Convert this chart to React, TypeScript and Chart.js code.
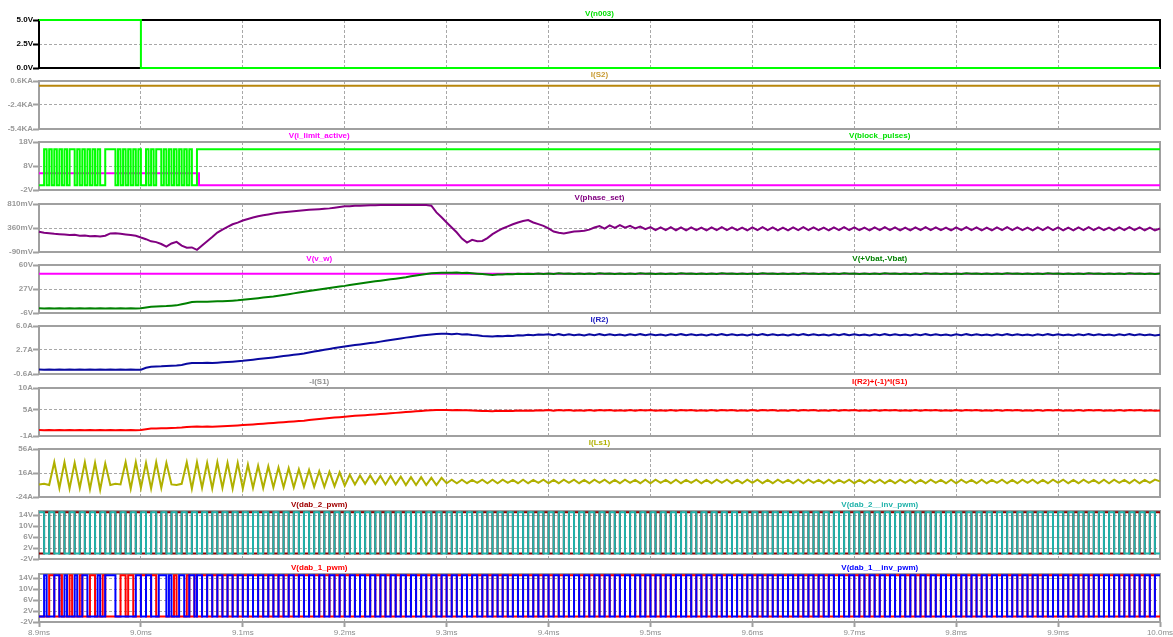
import React, { useEffect, useRef } from "react";
import { Chart, registerables } from "chart.js";

Chart.register(...registerables);

// ---------------- time axis ----------------
const T_START = 8.9;
const T_END = 10.0;
const SAMPLE_STEP = 0.005; // ms between analog samples
const timeTicks = [8.9, 9.0, 9.1, 9.2, 9.3, 9.4, 9.5, 9.6, 9.7, 9.8, 9.9, 10.0];
const timeTickLabels = ["8.9ms", "9.0ms", "9.1ms", "9.2ms", "9.3ms", "9.4ms", "9.5ms", "9.6ms", "9.7ms", "9.8ms", "9.9ms", "10.0ms"];

// ---------------- y tick values / labels ----------------
const n003Ticks = [5, 2.5, 0];
const n003TickLabels = ["5.0V", "2.5V", "0.0V"];
const s2Ticks = [0.6, -2.4, -5.4];
const s2TickLabels = ["0.6KA", "-2.4KA", "-5.4KA"];
const limitTicks = [18, 8, -2];
const limitTickLabels = ["18V", "8V", "-2V"];
const phaseTicks = [810, 360, -90];
const phaseTickLabels = ["810mV", "360mV", "-90mV"];
const vbatTicks = [60, 27, -6];
const vbatTickLabels = ["60V", "27V", "-6V"];
const r2Ticks = [6, 2.7, -0.6];
const r2TickLabels = ["6.0A", "2.7A", "-0.6A"];
const s1Ticks = [10, 5, -1];
const s1TickLabels = ["10A", "5A", "-1A"];
const ls1Ticks = [56, 16, -24];
const ls1TickLabels = ["56A", "16A", "-24A"];
const pwmTicks = [14, 10, 6, 2, -2];
const pwmTickLabels = ["14V", "10V", "6V", "2V", "-2V"];

// ---------------- level (step) signals: change times (ms) and values ----------------
const n003Times = [8.9, 9.0];
const n003Values = [5, 0];
const s2Times = [8.9];
const s2Values = [0]; // KA
const limitTimes = [8.9, 9.057];
const limitValues = [5, 0];
const vwTimes = [8.9];
const vwValues = [47.8];

// ---------------- pulse patterns (H = high, L = low) ----------------
const PULSE_HIGH = 15;
const PULSE_LOW = 0;
const BLOCK_SLOT = 0.0025; // ms
const blockPattern =
  "LLHLHLHLHL" + "HLHHLHLHLH" + "LHLHLLHHHH" + "LHLHLHLHLH" +
  "LLHLHLHHLH" + "LHLHLHLHLH" + "LLH";

const DAB2_SLOT = 0.005; // ms
const dab2InvPattern =
  "HLHLHLHLHLHLHLHLHLHL" + "HLHLHLHLHLHLHLHLHLHL" + "HLHLHLHLHLHLHLHLHLHL" +
  "HLHLHLHLHLHLHLHLHLHL" + "HLHLHLHLHLHLHLHLHLHL" + "HLHLHLHLHLHLHLHLHLHL" +
  "HLHLHLHLHLHLHLHLHLHL" + "HLHLHLHLHLHLHLHLHLHL" + "HLHLHLHLHLHLHLHLHLHL" +
  "HLHLHLHLHLHLHLHLHLHL" + "HLHLHLHLHLHLHLHLHLHL";
const dab2Pattern =
  "LHLHLHLHLHLHLHLHLHLH" + "LHLHLHLHLHLHLHLHLHLH" + "LHLHLHLHLHLHLHLHLHLH" +
  "LHLHLHLHLHLHLHLHLHLH" + "LHLHLHLHLHLHLHLHLHLH" + "LHLHLHLHLHLHLHLHLHLH" +
  "LHLHLHLHLHLHLHLHLHLH" + "LHLHLHLHLHLHLHLHLHLH" + "LHLHLHLHLHLHLHLHLHLH" +
  "LHLHLHLHLHLHLHLHLHLH" + "LHLHLHLHLHLHLHLHLHLH";

const DAB1_SLOT = 0.0025; // ms
const dab1InvPattern =
  "LLHLLLHHLLHLLLHLLHHLLLLHLLHHHHLLLLLLLLHH" +
  "LLHHLLLHHHLHLLLHHLLHHLHHLLHHLLHHLLHHLLHH" +
  "LLHHLLHHLLHHLLHHLLHHLLHHLLHHLLHHLLHHLLHH" +
  "LLHHLLHHLLHHLLHHLLHHLLHHLLHHLLHHLLHHLLHH" +
  "LLHHLLHHLLHHLLHHLLHHLLHHLLHHLLHHLLHHLLHH" +
  "LLHHLLHHLLHHLLHHLLHHLLHHLLHHLLHHLLHHLLHH" +
  "LLHHLLHHLLHHLLHHLLHHLLHHLLHHLLHHLLHHLLHH" +
  "LLHHLLHHLLHHLLHHLLHHLLHHLLHHLLHHLLHHLLHH" +
  "LLHHLLHHLLHHLLHHLLHHLLHHLLHHLLHHLLHHLLHH" +
  "LLHHLLHHLLHHLLHHLLHHLLHHLLHHLLHHLLHHLLHH" +
  "LLHHLLHHLLHHLLHHLLHHLLHHLLHHLLHHLLHHLLHH";
const dab1Pattern =
  "LLLLHHLLHLLLHLLLHLLLHHLLLHLLLLLLHHLHHLLL" +
  "HHLLHHLLLLLLLHLLLLHLLHLLHHLLHHLLHHLLHHLL" +
  "HHLLHHLLHHLLHHLLHHLLHHLLHHLLHHLLHHLLHHLL" +
  "HHLLHHLLHHLLHHLLHHLLHHLLHHLLHHLLHHLLHHLL" +
  "HHLLHHLLHHLLHHLLHHLLHHLLHHLLHHLLHHLLHHLL" +
  "HHLLHHLLHHLLHHLLHHLLHHLLHHLLHHLLHHLLHHLL" +
  "HHLLHHLLHHLLHHLLHHLLHHLLHHLLHHLLHHLLHHLL" +
  "HHLLHHLLHHLLHHLLHHLLHHLLHHLLHHLLHHLLHHLL" +
  "HHLLHHLLHHLLHHLLHHLLHHLLHHLLHHLLHHLLHHLL" +
  "HHLLHHLLHHLLHHLLHHLLHHLLHHLLHHLLHHLLHHLL" +
  "HHLLHHLLHHLLHHLLHHLLHHLLHHLLHHLLHHLLHHLL";

// ---------------- analog signals, one sample every 5 µs from 8.9 ms ----------------
const phaseSet = [ // mV
  290, 270, 262, 250, 245, 240, 228, 235, 215, 220,
  205, 212, 200, 215, 258, 262, 250, 240, 228, 215,
  181, 150, 110, 95, 60, 10, 70, 100, 30, -10,
  -5, -50, 30, 110, 190, 275, 330, 380, 430, 460,
  500, 530, 558, 580, 600, 615, 630, 645, 655, 665,
  675, 685, 692, 700, 707, 713, 720, 728, 740, 752,
  766, 770, 775, 779, 782, 785, 787, 789, 790, 791,
  791, 792, 792, 792, 791, 791, 791, 779, 653, 560,
  464, 370, 275, 162, 87, 137, 110, 118, 170, 244,
  300, 351, 390, 430, 464, 490, 508, 464, 433, 400,
  351, 294, 270, 256, 275, 294, 300, 307, 330, 370,
  395, 350, 410, 362, 412, 365, 400, 352, 388, 340,
  378, 322, 372, 320, 375, 318, 372, 316, 372, 320,
  368, 316, 372, 320, 376, 322, 372, 320, 368, 316,
  372, 320, 376, 320, 372, 316, 368, 316, 372, 320,
  376, 322, 372, 320, 368, 316, 372, 320, 376, 322,
  372, 320, 368, 316, 372, 320, 376, 320, 372, 316,
  368, 316, 372, 320, 376, 322, 372, 320, 368, 316,
  372, 320, 376, 320, 372, 316, 368, 316, 372, 320,
  376, 322, 372, 320, 368, 316, 372, 320, 376, 320,
  372, 316, 368, 316, 372, 320, 376, 322, 372, 320,
  368, 316, 372, 320, 376, 320, 372, 316, 368, 316,
  350,
];

const vbat = [ // V
  0.4, 0.2, 0.5, 0.3, 0.4, 0.2, 0.5, 0.3, 0.4, 0.2,
  0.5, 0.3, 0.4, 0.2, 0.5, 0.3, 0.4, 0.3, 0.5, 0.3,
  0.4, 1.5, 2.5, 3.0, 3.2, 3.5, 4.0, 4.5, 6.0, 7.5,
  9.0, 9.3, 9.5, 9.6, 9.8, 10.0, 10.3, 10.6, 11.0, 11.5,
  12.2, 12.9, 13.6, 14.4, 15.2, 16.0, 16.8, 17.8, 18.8, 19.9,
  21.0, 22.1, 23.1, 24.2, 25.3, 26.4, 27.4, 28.4, 29.4, 30.4,
  31.3, 32.4, 33.5, 34.5, 35.5, 36.5, 37.5, 38.5, 39.4, 40.3,
  41.2, 42.2, 43.2, 44.4, 45.5, 46.6, 47.7, 48.5, 49.0, 49.3,
  49.5, 49.2, 49.6, 49.0, 49.3, 48.6, 48.0, 47.5, 46.9, 46.3,
  46.8, 47.0, 47.5, 47.2, 47.8, 47.5, 48.0, 47.7, 48.3, 47.8,
  48.4, 47.8, 48.5, 47.9, 48.4, 47.8, 48.3, 47.7, 48.4, 47.8,
  48.5, 47.9, 48.4, 47.8, 48.3, 47.7, 48.4, 47.8, 48.5, 47.9,
  48.4, 47.8, 48.3, 47.7, 48.4, 47.8, 48.5, 47.9, 48.4, 47.8,
  48.3, 47.7, 48.4, 47.8, 48.5, 47.9, 48.4, 47.8, 48.3, 47.7,
  48.4, 47.8, 48.5, 47.9, 48.4, 47.8, 48.3, 47.7, 48.4, 47.8,
  48.5, 47.9, 48.4, 47.8, 48.3, 47.7, 48.4, 47.8, 48.5, 47.9,
  48.4, 47.8, 48.3, 47.7, 48.4, 47.8, 48.5, 47.9, 48.4, 47.8,
  48.3, 47.7, 48.4, 47.8, 48.5, 47.9, 48.4, 47.8, 48.3, 47.7,
  48.4, 47.8, 48.5, 47.9, 48.4, 47.8, 48.3, 47.7, 48.4, 47.8,
  48.5, 47.9, 48.4, 47.8, 48.3, 47.7, 48.4, 47.8, 48.5, 47.9,
  48.4, 47.8, 48.3, 47.7, 48.4, 47.8, 48.5, 47.9, 48.4, 47.8,
  48.3, 47.7, 48.4, 47.8, 48.5, 47.9, 48.4, 47.8, 48.3, 47.7,
  48.2,
];

const iR2 = [ // A
  0.02, -0.03, 0.03, -0.02, 0.02, -0.03, 0.03, -0.02, 0.02, -0.03,
  0.03, -0.02, 0.02, -0.03, 0.03, -0.02, 0.02, -0.03, 0.03, -0.02,
  0.0, 0.25, 0.4, 0.42, 0.45, 0.5, 0.54, 0.58, 0.65, 0.8,
  0.9, 0.92, 0.9, 0.93, 0.9, 0.95, 1.0, 1.05, 1.1, 1.16,
  1.22, 1.3, 1.37, 1.45, 1.52, 1.6, 1.68, 1.77, 1.86, 1.95,
  2.04, 2.13, 2.22, 2.35, 2.48, 2.6, 2.72, 2.84, 2.96, 3.07,
  3.18, 3.28, 3.38, 3.47, 3.56, 3.65, 3.74, 3.85, 3.96, 4.07,
  4.18, 4.29, 4.4, 4.5, 4.6, 4.69, 4.77, 4.84, 4.9, 4.93,
  4.95, 4.88, 4.95, 4.82, 4.85, 4.77, 4.72, 4.62, 4.6, 4.54,
  4.62, 4.58, 4.66, 4.62, 4.72, 4.68, 4.78, 4.74, 4.84, 4.8,
  4.86, 4.72, 4.88, 4.74, 4.86, 4.72, 4.84, 4.7, 4.86, 4.72,
  4.88, 4.74, 4.86, 4.72, 4.84, 4.7, 4.86, 4.72, 4.88, 4.74,
  4.86, 4.72, 4.84, 4.7, 4.86, 4.72, 4.88, 4.74, 4.86, 4.72,
  4.84, 4.7, 4.86, 4.72, 4.88, 4.74, 4.86, 4.72, 4.84, 4.7,
  4.86, 4.72, 4.88, 4.74, 4.86, 4.72, 4.84, 4.7, 4.86, 4.72,
  4.88, 4.74, 4.86, 4.72, 4.84, 4.7, 4.86, 4.72, 4.88, 4.74,
  4.86, 4.72, 4.84, 4.7, 4.86, 4.72, 4.88, 4.74, 4.86, 4.72,
  4.84, 4.7, 4.86, 4.72, 4.88, 4.74, 4.86, 4.72, 4.84, 4.7,
  4.86, 4.72, 4.88, 4.74, 4.86, 4.72, 4.84, 4.7, 4.86, 4.72,
  4.88, 4.74, 4.86, 4.72, 4.84, 4.7, 4.86, 4.72, 4.88, 4.74,
  4.86, 4.72, 4.84, 4.7, 4.86, 4.72, 4.88, 4.74, 4.86, 4.72,
  4.84, 4.7, 4.86, 4.72, 4.88, 4.74, 4.86, 4.72, 4.84, 4.7,
  4.8,
];

const iR2MinusS1 = [ // A
  0.35, 0.3, 0.38, 0.32, 0.36, 0.3, 0.37, 0.31, 0.35, 0.3,
  0.37, 0.32, 0.36, 0.3, 0.38, 0.31, 0.35, 0.3, 0.37, 0.33,
  0.4, 0.55, 0.7, 0.72, 0.75, 0.8, 0.84, 0.88, 0.95, 1.05,
  1.12, 1.15, 1.13, 1.16, 1.14, 1.2, 1.25, 1.3, 1.35, 1.42,
  1.5, 1.58, 1.66, 1.74, 1.82, 1.9, 1.98, 2.07, 2.16, 2.25,
  2.34, 2.43, 2.52, 2.64, 2.76, 2.88, 3.0, 3.11, 3.22, 3.32,
  3.42, 3.52, 3.62, 3.7, 3.78, 3.86, 3.94, 4.03, 4.12, 4.21,
  4.3, 4.4, 4.5, 4.58, 4.66, 4.74, 4.82, 4.88, 4.93, 4.96,
  4.98, 4.92, 4.97, 4.88, 4.9, 4.85, 4.8, 4.75, 4.74, 4.7,
  4.76, 4.72, 4.78, 4.74, 4.82, 4.78, 4.85, 4.8, 4.88, 4.83,
  4.93, 4.8, 4.95, 4.82, 4.93, 4.8, 4.91, 4.78, 4.93, 4.8,
  4.95, 4.82, 4.93, 4.8, 4.91, 4.78, 4.93, 4.8, 4.95, 4.82,
  4.93, 4.8, 4.91, 4.78, 4.93, 4.8, 4.95, 4.82, 4.93, 4.8,
  4.91, 4.78, 4.93, 4.8, 4.95, 4.82, 4.93, 4.8, 4.91, 4.78,
  4.93, 4.8, 4.95, 4.82, 4.93, 4.8, 4.91, 4.78, 4.93, 4.8,
  4.95, 4.82, 4.93, 4.8, 4.91, 4.78, 4.93, 4.8, 4.95, 4.82,
  4.93, 4.8, 4.91, 4.78, 4.93, 4.8, 4.95, 4.82, 4.93, 4.8,
  4.91, 4.78, 4.93, 4.8, 4.95, 4.82, 4.93, 4.8, 4.91, 4.78,
  4.93, 4.8, 4.95, 4.82, 4.93, 4.8, 4.91, 4.78, 4.93, 4.8,
  4.95, 4.82, 4.93, 4.8, 4.91, 4.78, 4.93, 4.8, 4.95, 4.82,
  4.93, 4.8, 4.91, 4.78, 4.93, 4.8, 4.95, 4.82, 4.93, 4.8,
  4.91, 4.78, 4.93, 4.8, 4.95, 4.82, 4.93, 4.8, 4.91, 4.78,
  4.85,
];

const iLs1 = [ // A
  -3, -2, -4, 34, -9, 34, -10, 33, -9, 34,
  -11, 33, -12, 32, -4, -2, -3, 34, -10, 34,
  -9, 33, -10, 34, -9, 33, -3, -4, -2, 34,
  -10, 34, -9, 33, -10, 34, -9, 33, -10, 33,
  -10, 30, -9, 28, -9, 27, -8, 25, -8, 24,
  -8, 22, -7, 21, -7, 19, -7, 18, -6, 17,
  -5, 13, -3, 12, -2, 12, -2, 11, -3, 11,
  -3, 10, -4, 9, -4, 9, -4, 8, -4, 8,
  -1, 5, -1, 5, -1, 4.5, -0.5, 5, -1, 5,
  -1, 5, -0.5, 4.5, -1, 5, -1, 4.5, -0.5, 5,
  -1, 4.5, -1, 5, -0.5, 5, -1, 4.5, -1, 5,
  -0.5, 5, -1, 4.5, -1, 5, -0.5, 4.5, -1, 5,
  -1, 5, -0.5, 4.5, -1, 5, -1, 4.5, -0.5, 5,
  -1, 4.5, -1, 5, -0.5, 5, -1, 4.5, -1, 5,
  -0.5, 5, -1, 4.5, -1, 5, -0.5, 4.5, -1, 5,
  -1, 5, -0.5, 4.5, -1, 5, -1, 4.5, -0.5, 5,
  -1, 4.5, -1, 5, -0.5, 5, -1, 4.5, -1, 5,
  -0.5, 5, -1, 4.5, -1, 5, -0.5, 4.5, -1, 5,
  -1, 5, -0.5, 4.5, -1, 5, -1, 4.5, -0.5, 5,
  -1, 4.5, -1, 5, -0.5, 5, -1, 4.5, -1, 5,
  -0.5, 5, -1, 4.5, -1, 5, -0.5, 4.5, -1, 5,
  -1, 5, -0.5, 4.5, -1, 5, -1, 4.5, -0.5, 5,
  2,
];

// ---------------- helpers that turn the arrays into {x, y} points ----------------
type Pt = { x: number; y: number };
const sampled = (vals: number[]): Pt[] => vals.map((v, i) => ({ x: T_START + i * SAMPLE_STEP, y: v }));
const levels = (times: number[], vals: number[]): Pt[] => [
  ...times.map((t, i) => ({ x: t, y: vals[i] })),
  { x: T_END, y: vals[vals.length - 1] },
];
const pulses = (pattern: string, slot: number): Pt[] => {
  const pts: Pt[] = [];
  for (let k = 0; k < pattern.length; k++) {
    pts.push({ x: T_START + k * slot, y: pattern[k] === "H" ? PULSE_HIGH : PULSE_LOW });
  }
  pts.push({ x: T_END, y: pattern[pattern.length - 1] === "H" ? PULSE_HIGH : PULSE_LOW });
  return pts;
};

// ---------------- layout / style ----------------
const FONT = '"Liberation Sans", Arial, sans-serif';
const PLOT_LEFT = 39;
const PLOT_RIGHT = 1160;
const PANE_H = 48;
const PAD = 6;
const GRID = "#a8a8a8";
const FRAME_GRAY = "#a0a0a0";
const LABEL_GRAY = "#999999";

type Series = { data: Pt[]; color: string; stepped?: boolean };
type Title = { text: string; color: string; pos: number };
type PaneCfg = {
  top: number; min: number; max: number; ticks: number[]; tickLabels: string[];
  frame: string; labelColor: string; series: Series[]; titles: Title[];
};

const panes: PaneCfg[] = [
  {
    top: 20, min: 0, max: 5, ticks: n003Ticks, tickLabels: n003TickLabels, frame: "#000000", labelColor: "#000000",
    series: [{ data: levels(n003Times, n003Values), color: "#00ff00", stepped: true }],
    titles: [{ text: "V(n003)", color: "#00e000", pos: 0.5 }],
  },
  {
    top: 81, min: -5.4, max: 0.6, ticks: s2Ticks, tickLabels: s2TickLabels, frame: FRAME_GRAY, labelColor: LABEL_GRAY,
    series: [{ data: levels(s2Times, s2Values), color: "#b8860b", stepped: true }],
    titles: [{ text: "I(S2)", color: "#c89a30", pos: 0.5 }],
  },
  {
    top: 142, min: -2, max: 18, ticks: limitTicks, tickLabels: limitTickLabels, frame: FRAME_GRAY, labelColor: LABEL_GRAY,
    series: [
      { data: pulses(blockPattern, BLOCK_SLOT), color: "#00ff00", stepped: true },
      { data: levels(limitTimes, limitValues), color: "#ff00ff", stepped: true },
    ],
    titles: [
      { text: "V(i_limit_active)", color: "#ff00ff", pos: 0.25 },
      { text: "V(block_pulses)", color: "#00e000", pos: 0.75 },
    ],
  },
  {
    top: 204, min: -90, max: 810, ticks: phaseTicks, tickLabels: phaseTickLabels, frame: FRAME_GRAY, labelColor: LABEL_GRAY,
    series: [{ data: sampled(phaseSet), color: "#800080" }],
    titles: [{ text: "V(phase_set)", color: "#800080", pos: 0.5 }],
  },
  {
    top: 265, min: -6, max: 60, ticks: vbatTicks, tickLabels: vbatTickLabels, frame: FRAME_GRAY, labelColor: LABEL_GRAY,
    series: [
      { data: sampled(vbat), color: "#008000" },
      { data: levels(vwTimes, vwValues), color: "#ff00ff", stepped: true },
    ],
    titles: [
      { text: "V(v_w)", color: "#ff00ff", pos: 0.25 },
      { text: "V(+Vbat,-Vbat)", color: "#008000", pos: 0.75 },
    ],
  },
  {
    top: 326, min: -0.6, max: 6, ticks: r2Ticks, tickLabels: r2TickLabels, frame: FRAME_GRAY, labelColor: LABEL_GRAY,
    series: [{ data: sampled(iR2), color: "#0a0aa0" }],
    titles: [{ text: "I(R2)", color: "#2020c0", pos: 0.5 }],
  },
  {
    top: 388, min: -1, max: 10, ticks: s1Ticks, tickLabels: s1TickLabels, frame: FRAME_GRAY, labelColor: LABEL_GRAY,
    series: [{ data: sampled(iR2MinusS1), color: "#ff0000" }],
    titles: [
      { text: "-I(S1)", color: "#909090", pos: 0.25 },
      { text: "I(R2)+(-1)*I(S1)", color: "#ff0000", pos: 0.75 },
    ],
  },
  {
    top: 449, min: -24, max: 56, ticks: ls1Ticks, tickLabels: ls1TickLabels, frame: FRAME_GRAY, labelColor: LABEL_GRAY,
    series: [{ data: sampled(iLs1), color: "#b0b000" }],
    titles: [{ text: "I(Ls1)", color: "#b0b000", pos: 0.5 }],
  },
  {
    top: 511, min: -2, max: 15.5, ticks: pwmTicks, tickLabels: pwmTickLabels, frame: FRAME_GRAY, labelColor: LABEL_GRAY,
    series: [
      { data: pulses(dab2InvPattern, DAB2_SLOT), color: "#20b2aa", stepped: true },
      { data: pulses(dab2Pattern, DAB2_SLOT), color: "#900000", stepped: true },
    ],
    titles: [
      { text: "V(dab_2_pwm)", color: "#a00000", pos: 0.25 },
      { text: "V(dab_2__inv_pwm)", color: "#20b2aa", pos: 0.75 },
    ],
  },
  {
    top: 574, min: -2, max: 15.5, ticks: pwmTicks, tickLabels: pwmTickLabels, frame: FRAME_GRAY, labelColor: LABEL_GRAY,
    series: [
      { data: pulses(dab1InvPattern, DAB1_SLOT), color: "#0000ff", stepped: true },
      { data: pulses(dab1Pattern, DAB1_SLOT), color: "#ff0000", stepped: true },
    ],
    titles: [
      { text: "V(dab_1_pwm)", color: "#ff0000", pos: 0.25 },
      { text: "V(dab_1__inv_pwm)", color: "#0000ff", pos: 0.75 },
    ],
  },
];

const framePlugin = {
  id: "paneFrame",
  beforeDatasetsDraw(chart: any, _args: any, opts: any) {
    const { ctx, chartArea: a } = chart;
    ctx.save();
    ctx.strokeStyle = opts.color;
    ctx.lineWidth = 2;
    ctx.strokeRect(a.left, a.top, a.right - a.left, a.bottom - a.top);
    ctx.restore();
  },
};

function Pane({ cfg, last }: { cfg: PaneCfg; last: boolean }) {
  const ref = useRef<HTMLCanvasElement>(null);
  const canvasTop = cfg.top - PAD;
  const canvasH = last ? 637 - canvasTop : PANE_H + 2 * PAD;

  useEffect(() => {
    if (!ref.current) return;
    const chart = new Chart(ref.current, {
      type: "line",
      data: {
        datasets: cfg.series.map((s) => ({
          data: s.data,
          borderColor: s.color,
          backgroundColor: s.color,
          borderWidth: 2,
          pointRadius: 0,
          stepped: s.stepped ? true : false,
          tension: 0,
          fill: false,
          clip: false as any,
          borderJoinStyle: "miter" as const,
          borderCapStyle: "butt" as const,
        })),
      },
      options: {
        animation: false,
        responsive: false,
        maintainAspectRatio: false,
        events: [],
        parsing: false,
        layout: { padding: { left: 0, right: 1173 - PLOT_RIGHT, top: PAD, bottom: last ? 0 : PAD } },
        plugins: {
          legend: { display: false },
          tooltip: { enabled: false },
          title: { display: false },
          paneFrame: { color: cfg.frame },
        } as any,
        scales: {
          x: {
            type: "linear",
            min: T_START,
            max: T_END,
            afterBuildTicks: (s: any) => {
              s.ticks = timeTicks.map((v) => ({ value: v }));
            },
            afterFit: (s: any) => {
              s.height = last ? 15 : 0;
              s.paddingLeft = 0;
              s.paddingRight = 0;
            },
            grid: {
              display: true,
              color: GRID,
              lineWidth: 1,
              drawTicks: last,
              tickLength: 5,
              tickColor: FRAME_GRAY,
              tickWidth: 2,
            },
            border: { display: false, dash: [3, 2] },
            ticks: {
              display: last,
              autoSkip: false,
              maxRotation: 0,
              padding: 1,
              color: "#8c8c8c",
              font: { family: FONT, size: 8 },
              callback: (_v: any, i: number) => timeTickLabels[i],
            },
          },
          y: {
            type: "linear",
            min: cfg.min,
            max: cfg.max,
            afterBuildTicks: (s: any) => {
              s.ticks = cfg.ticks.map((v) => ({ value: v }));
            },
            afterFit: (s: any) => {
              s.width = PLOT_LEFT;
              s.paddingTop = 0;
              s.paddingBottom = 0;
            },
            grid: {
              display: true,
              color: GRID,
              lineWidth: 1,
              drawTicks: true,
              tickLength: 6,
              tickColor: cfg.frame,
              tickWidth: 2,
            },
            border: { display: false, dash: [3, 2] },
            ticks: {
              autoSkip: false,
              padding: 0,
              color: cfg.labelColor,
              font: { family: FONT, size: 8, weight: "bold" },
              callback: (_v: any, i: number) => cfg.tickLabels[i],
            },
          },
        },
      } as any,
      plugins: [framePlugin],
    });
    return () => chart.destroy();
  }, [cfg, last]);

  return (
    <>
      <canvas
        ref={ref}
        width={1173}
        height={canvasH}
        style={{ position: "absolute", left: 0, top: canvasTop, width: 1173, height: canvasH }}
      />
      {cfg.titles.map((t) => (
        <div
          key={t.text}
          style={{
            position: "absolute",
            left: PLOT_LEFT + t.pos * (PLOT_RIGHT - PLOT_LEFT),
            top: cfg.top - 11,
            transform: "translateX(-50%)",
            font: `bold 8px ${FONT}`,
            lineHeight: "10px",
            color: t.color,
            whiteSpace: "nowrap",
          }}
        >
          {t.text}
        </div>
      ))}
    </>
  );
}

export default function App() {
  return (
    <div
      style={{
        position: "absolute",
        left: 0,
        top: 0,
        width: 1173,
        height: 637,
        background: "#ffffff",
        overflow: "hidden",
      }}
    >
      {panes.map((p, i) => (
        <Pane key={i} cfg={p} last={i === panes.length - 1} />
      ))}
    </div>
  );
}
